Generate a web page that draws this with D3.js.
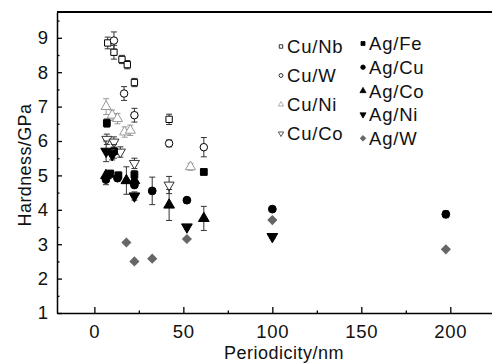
<!DOCTYPE html>
<html>
<head>
<meta charset="utf-8">
<script src="https://cdn.jsdelivr.net/npm/d3@7"></script>
<style>
  body { margin: 0; background: #fff; }
  text { font-family: "Liberation Sans", Arial, sans-serif; }
</style>
</head>
<body>
<svg></svg>
<script>
// [periodicity nm, hardness GPa, error]
var cuNb = [[7.5, 8.85, 0.17], [11, 8.58, 0.2], [15.5, 8.37, 0.12], [18.5, 8.22, 0.12], [22.5, 7.7, 0.12], [42, 6.63, 0.15]];
var cuW  = [[11, 8.92, 0.25], [16.7, 7.38, 0.2], [22.5, 6.75, 0.2], [42, 5.93, 0.1], [61.5, 5.82, 0.28]];
var cuNi = [[6.6, 7.0, 0.23], [10, 6.75, 0.15], [13, 6.65, 0.15], [17, 6.26, 0.15], [20.2, 6.31, 0.15], [54, 5.25, 0.1]];
var cuCo = [[7, 6.05, 0.15], [11, 5.97, 0.15], [14.6, 5.68, 0.15], [22.5, 5.35, 0.15], [42, 4.72, 0.25]];
var agFe = [[7, 6.52, 0.12], [11, 5.7, 0.2], [9, 5.05, 0.1], [13.5, 5.0, 0.1], [22.5, 5.02, 0.12], [61.5, 5.1, 0]];
var agCu = [[6.5, 4.88, 0.15], [13, 4.92, 0], [22.5, 4.72, 0], [32.5, 4.55, 0.4], [52, 4.28, 0], [100, 4.02, 0], [197.5, 3.87, 0.1]];
var agCo = [[6.5, 5.0, 0], [18, 4.85, 0.4], [22.5, 4.85, 0], [42, 4.14, 0.45], [61.5, 3.75, 0.35]];
var agNi = [[6.6, 5.7, 0.3], [10, 5.6, 0.15], [22.5, 4.4, 0.12], [52, 3.5, 0.06], [100, 3.22, 0.05]];
var agW  = [[18, 3.05, 0], [22.5, 2.5, 0], [32.5, 2.58, 0], [52, 3.15, 0], [100, 3.7, 0], [197.5, 2.85, 0]];

var xTicks = [0, 50, 100, 150, 200];
var xMinor = [25, 75, 125, 175];
var yTicks = [1, 2, 3, 4, 5, 6, 7, 8, 9];
var yMinor = [1.5, 2.5, 3.5, 4.5, 5.5, 6.5, 7.5, 8.5, 9.5];

var svgWidth = 492, svgHeight = 364;

var svg = d3.select('svg')
    .attr('width', svgWidth)
    .attr('height', svgHeight);

svg.append('rect')
    .attr('width', '100%')
    .attr('height', '100%')
    .attr('fill', 'white');

var xScale = d3.scaleLinear()
    .domain([-21, 224])
    .range([57, 493]);

var yScale = d3.scaleLinear()
    .domain([1, 9.75])
    .range([313, 12]);

// minor ticks first
svg.append('g')
    .attr('transform', 'translate(0,313)')
    .call(d3.axisBottom(xScale).tickValues(xMinor).tickSize(-2.5).tickFormat(''))
    .call(g => g.select('.domain').remove());

svg.append('g')
    .attr('transform', 'translate(57,0)')
    .call(d3.axisLeft(yScale).tickValues(yMinor).tickSize(-2.5).tickFormat(''))
    .call(g => g.select('.domain').remove());

var xAxis = svg.append('g')
    .attr('transform', 'translate(0,313)')
    .call(d3.axisBottom(xScale).tickValues(xTicks).tickSize(-6).tickSizeOuter(0).tickPadding(12));

var yAxis = svg.append('g')
    .attr('transform', 'translate(57,0)')
    .call(d3.axisLeft(yScale).tickValues(yTicks).tickSize(-5).tickSizeOuter(0).tickPadding(9));

svg.selectAll('.domain').style('stroke', '#000').style('stroke-width', 1.5);
svg.selectAll('.tick line').style('stroke', '#000').style('stroke-width', 1.3);
svg.selectAll('.tick text')
    .style('font-family', '"Liberation Sans", Arial, sans-serif')
    .style('font-size', '18.5px')
    .style('fill', '#111');
xAxis.selectAll('.tick text').style('letter-spacing', '0.8px');

// top border
svg.append('line')
    .attr('x1', xScale(-21)).attr('x2', xScale(224))
    .attr('y1', yScale(9.75)).attr('y2', yScale(9.75))
    .style('stroke', '#000').style('stroke-width', 2);

svg.append('text')
    .attr('x', 284).attr('y', 359)
    .attr('text-anchor', 'middle')
    .style('font-size', '18px')
    .style('letter-spacing', '0.5px')
    .style('fill', '#111')
    .text('Periodicity/nm');

svg.append('text')
    .attr('transform', 'translate(31,165) rotate(-90)')
    .attr('text-anchor', 'middle')
    .style('font-size', '18px')
    .style('letter-spacing', '0.4px')
    .style('fill', '#111')
    .text('Hardness/GPa');

var series = [
    {name: 'Cu/Nb', data: cuNb, type: d3.symbolSquare, size: 40, rot: 0, fill: 'white', stroke: '#000', col: 0, row: 0},
    {name: 'Cu/W', data: cuW, type: d3.symbolCircle, size: 44, rot: 0, fill: 'white', stroke: '#000', col: 0, row: 1},
    {name: 'Cu/Ni', data: cuNi, type: d3.symbolTriangle, size: 44, rot: 0, fill: 'white', stroke: '#999', col: 0, row: 2},
    {name: 'Cu/Co', data: cuCo, type: d3.symbolTriangle, size: 44, rot: 180, fill: 'white', stroke: '#333', col: 0, row: 3},
    {name: 'Ag/Fe', data: agFe, type: d3.symbolSquare, size: 46, rot: 0, fill: '#000', stroke: '#000', col: 1, row: 0},
    {name: 'Ag/Cu', data: agCu, type: d3.symbolCircle, size: 48, rot: 0, fill: '#000', stroke: '#000', col: 1, row: 1},
    {name: 'Ag/Co', data: agCo, type: d3.symbolTriangle, size: 50, rot: 0, fill: '#000', stroke: '#000', col: 1, row: 2},
    {name: 'Ag/Ni', data: agNi, type: d3.symbolTriangle, size: 50, rot: 180, fill: '#000', stroke: '#000', col: 1, row: 3},
    {name: 'Ag/W', data: agW, type: d3.symbolSquare, size: 38, rot: 45, fill: '#666', stroke: '#666', col: 1, row: 4}
];

series.forEach(function(s) {
    var g = svg.append('g');
    var ebColor = s.stroke === '#999' ? '#999' : '#333';
    // error bars
    g.selectAll('path.eb')
        .data(s.data.filter(d => d[2] > 0))
        .enter().append('path')
        .attr('class', 'eb')
        .attr('d', function(d) {
            var x = xScale(d[0]), y1 = yScale(d[1] + d[2]), y2 = yScale(d[1] - d[2]);
            return 'M' + x + ',' + y1 + 'V' + y2 +
                'M' + (x - 3) + ',' + y1 + 'H' + (x + 3) +
                'M' + (x - 3) + ',' + y2 + 'H' + (x + 3);
        })
        .style('stroke', ebColor)
        .style('stroke-width', 1)
        .style('fill', 'none');

    g.selectAll('path.pt')
        .data(s.data)
        .enter().append('path')
        .attr('class', 'pt')
        .attr('transform', d => 'translate(' + xScale(d[0]) + ',' + yScale(d[1]) + ') rotate(' + s.rot + ')')
        .attr('d', d3.symbol().type(s.type).size(s.size))
        .style('fill', s.fill)
        .style('stroke', s.stroke)
        .style('stroke-width', 1);
});

// legend
var legX = [281, 363];
var legY0 = [46.5, 43.5];
var legDy = [29, 23.7];

series.forEach(function(s) {
    var lx = legX[s.col], ly = legY0[s.col] + s.row * legDy[s.col];
    svg.append('path')
        .attr('transform', 'translate(' + lx + ',' + ly + ') rotate(' + s.rot + ')')
        .attr('d', d3.symbol().type(s.type).size(s.col === 0 ? 12 : 16))
        .style('fill', s.fill)
        .style('stroke', s.stroke)
        .style('stroke-width', 0.8);
    svg.append('text')
        .attr('x', lx + 6)
        .attr('y', ly)
        .attr('dy', '0.36em')
        .style('font-size', '18.5px')
        .style('letter-spacing', '0.8px')
        .style('fill', '#111')
        .text(s.name);
});
</script>
</body>
</html>
